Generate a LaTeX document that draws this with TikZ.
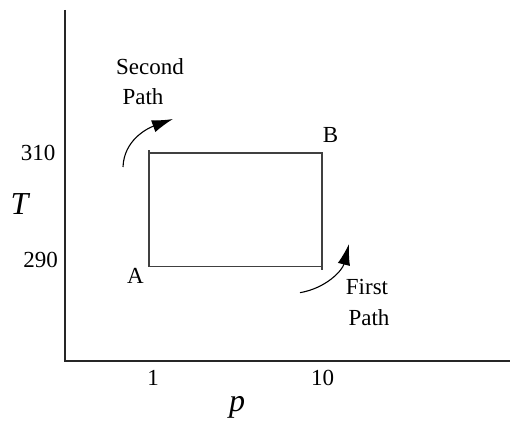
\documentclass[tikz,border=0pt]{standalone}
\usepackage{fontspec}
\setmainfont{Liberation Serif}
\usetikzlibrary{arrows.meta}
\begin{document}
\begin{tikzpicture}[x=1pt,y=1pt,
  axisline/.style={line width=1.6pt,black!85},
  boxline/.style={line width=1.1pt,black!75},
  lbl/.style={anchor=base,inner sep=0pt,font=\fontsize{23}{27}\selectfont},
  axlbl/.style={anchor=base,inner sep=0pt,font=\fontsize{32}{36}\selectfont\itshape},
  patharrow/.style={line width=1.1pt,black,-{Latex[length=21pt,width=12.5pt]}}]
\useasboundingbox (0,0) rectangle (510,420);
% axes
\coordinate (ytop) at (65,410);
\coordinate (orig) at (65,59);
\coordinate (xend) at (510,59);
\draw[axisline] (ytop) -- (orig) -- (xend);
% box corners
\coordinate (Atl) at (149,269.5);
\coordinate (Abl) at (149,153.3);
\coordinate (Br) at (322,267);
\coordinate (Bbr) at (322,150);
\coordinate (tl) at (149,267);
\coordinate (br) at (322,153.3);
\draw[boxline] (Atl) -- (Abl) -- (br);
\draw[boxline] (tl) -- (Br) -- (Bbr);
% labels
\node[lbl] (t310) at (38,259.3) {310};
\node[lbl] (t290) at (40.5,152) {290};
\node[axlbl] (Tlab) at (19.5,205) {T};
\node[lbl] (A) at (135.5,136) {A};
\node[lbl] (B) at (330.5,277) {B};
\node[lbl] (p1) at (153,35) {1};
\node[lbl] (p10) at (322.5,35) {10};
\node[axlbl] (plab) at (237,9) {p};
\node[lbl] (sec) at (150,345) {Second};
\node[lbl] (secp) at (143,315) {Path};
\node[lbl] (fir) at (367,125) {First};
\node[lbl] (firp) at (369,95) {Path};
% arrows
\coordinate (s0) at (123,253);
\coordinate (s1) at (173,301);
\coordinate (f0) at (300,127.3);
\coordinate (f1) at (349,176);
\draw[patharrow] (s0) to[out=88,in=200] (s1);
\draw[patharrow] (f0) to[out=10,in=256] (f1);
\end{tikzpicture}
\end{document}
